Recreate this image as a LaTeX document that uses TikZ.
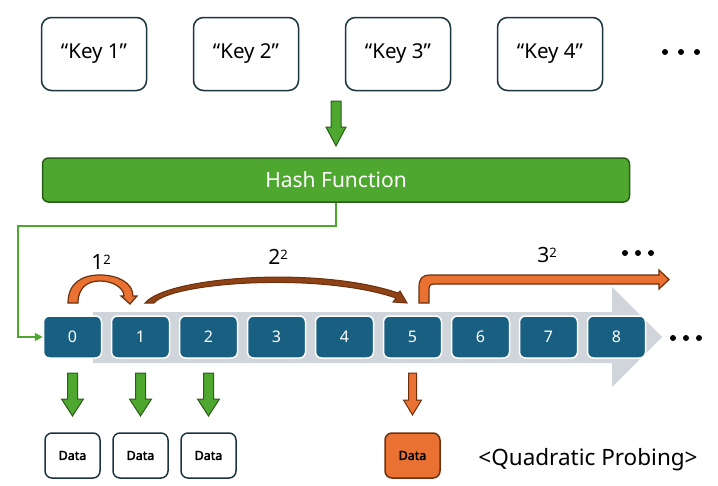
\documentclass[tikz,border=0pt]{standalone}
\usepackage{fontspec}
\setmainfont{Noto Sans}[AutoFakeBold=2.5]
\usetikzlibrary{arrows.meta}
\definecolor{cellblue}{HTML}{185F82}
\definecolor{arrgray}{HTML}{D0D5DB}
\definecolor{hgreen}{HTML}{4EA72E}
\definecolor{dgreen}{HTML}{2B5D1A}
\definecolor{orng}{HTML}{E97132}
\definecolor{brwn}{HTML}{6E300C}
\definecolor{midbrown}{HTML}{8E4216}
\definecolor{boxline}{HTML}{1C3340}
\newcommand\blkdown[7]{%
  \path[#7] (#1-#5,#2) -- (#1+#5,#2) -- (#1+#5,#3) -- (#1+#6,#3) -- (#1,#4) -- (#1-#6,#3) -- (#1-#5,#3) -- cycle;}
\newcommand\sqr{\raisebox{5pt}{\fontsize{13}{15}\selectfont 2}}
\tikzset{
  keybox/.style={draw=boxline, line width=1.5pt, rounded corners=10pt, fill=white,
    minimum width=105pt, minimum height=73pt, inner sep=0pt, font=\fontsize{20.5}{24}\selectfont},
  hashbox/.style={draw=dgreen, fill=hgreen, line width=1.5pt, rounded corners=6pt,
    minimum width=587pt, minimum height=44pt, text=white, font=\fontsize{21}{24}\selectfont},
  cell/.style={fill=cellblue, draw=white, line width=1.5pt, rounded corners=6pt,
    minimum width=58pt, minimum height=42pt, text=white, font=\fontsize{16}{18}\selectfont},
  databox/.style={draw=boxline, line width=1.5pt, rounded corners=7pt, fill=white,
    minimum width=55pt, minimum height=45pt, font=\bfseries\fontsize{12.5}{14}\selectfont},
  gblk/.style={fill=hgreen, draw=dgreen, line width=1pt},
  oblk/.style={fill=orng, draw=brwn, line width=1pt},
  lbl/.style={font=\fontsize{21}{24}\selectfont, inner sep=0pt},
  dot/.style={fill=black}
}
\begin{document}
\begin{tikzpicture}[x=1pt,y=-1pt]
\useasboundingbox (0,0) rectangle (718,485);
% keys
\node[keybox] (k1) at (94,54) {“Key 1”};
\node[keybox] (k2) at (246,54) {“Key 2”};
\node[keybox] (k3) at (398,54) {“Key 3”};
\node[keybox] (k4) at (550,54) {“Key 4”};
\foreach \x in {665,681,697} \fill[dot] (\x,52) circle (3);
% arrow to hash
\blkdown{336}{101}{127}{146}{5}{10}{gblk}
\node[hashbox] (hash) at (336,180) {Hash Function};
% big gray arrow
\fill[arrgray] (93,312) -- (612,312) -- (612,287) -- (662,337) -- (612,387) -- (612,363) -- (93,363) -- cycle;
% cells
\foreach \i in {0,...,8} \node[cell] (c\i) at (72.5+68*\i,337) {\i};
\foreach \x in {673,686,699} \fill[dot] (\x,338) circle (3);
% green connector
\draw[hgreen, line width=1.8pt, -{Triangle[length=8pt,width=8pt]}] (hash.south) |- (18,226) |- (c0.west);
% 1^2 arc
\filldraw[fill=orng, draw=brwn, line width=1.2pt] (68,303) .. controls (68,283) and (82,275) .. (100,275) .. controls (118,275) and (133,283) .. (133,296) -- (137,296) -- (130,304) -- (121,296) -- (124,296) .. controls (124,288) and (113,281) .. (100,281) .. controls (87,281) and (78,288) .. (78,303) -- cycle;
\node[lbl] (l1) at (101,262) {1\sqr};
% 2^2 arc
\filldraw[fill=midbrown, draw=brwn, line width=1pt] (145,303) .. controls (168,276) and (320,266) .. (398,293) -- (400,291) -- (407,303) -- (393,302) -- (396,298) .. controls (320,272) and (172,282) .. (154,303) -- cycle;
\node[lbl] (l2) at (278,257) {2\sqr};
% 3^2 arrow
\filldraw[fill=orng, draw=brwn, line width=1.2pt] (419,303) -- (419,287) .. controls (419,279) and (422,275) .. (430,275) -- (659,275) -- (659,270) -- (669,279.5) -- (659,289) -- (659,284) -- (434,284) .. controls (430,284) and (429,286) .. (429,290) -- (429,303) -- cycle;
\node[lbl] (l3) at (547,255) {3\sqr};
\foreach \x in {625,638,651} \fill[dot] (\x,253) circle (3);
% down arrows
\foreach \x in {72.5,140.5,208.5} {\blkdown{\x}{373}{399}{416}{5}{11}{gblk}}
\blkdown{412.5}{373}{400}{415}{4}{9}{oblk}
% data boxes
\node[databox] (d0) at (72.5,455.5) {Data};
\node[databox] (d1) at (140.5,455.5) {Data};
\node[databox] (d2) at (208.5,455.5) {Data};
\node[databox, fill=orng, draw=brwn] (d5) at (412.5,455.5) {Data};
\node[lbl, font=\fontsize{22.5}{26}\selectfont] (title) at (588,460) {<Quadratic Probing>};
\end{tikzpicture}
\end{document}
